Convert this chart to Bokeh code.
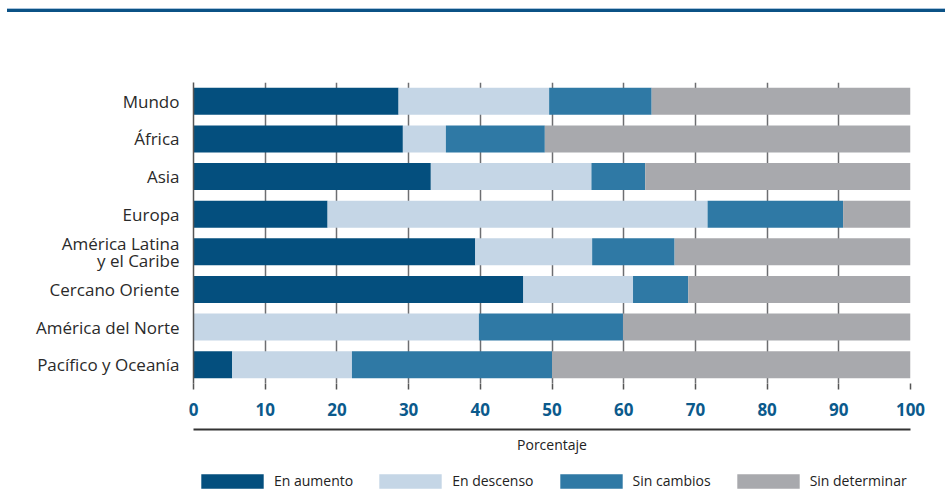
from bokeh.plotting import figure
from bokeh.models import (FactorRange, Range1d, Legend, LegendItem, LinearAxis,
                          FixedTicker, Div, ColumnDataSource)
from bokeh.layouts import column
from bokeh.embed import file_html
from bokeh.resources import INLINE

regions = ["Mundo", "África", "Asia", "Europa", "América Latina\ny el Caribe",
           "Cercano Oriente", "América del Norte", "Pacífico y Oceanía"]
en_aumento = [28.6, 29.2, 33.1, 18.7, 39.3, 46.0, 0.0, 5.4]
en_descenso = [21.0, 6.0, 22.4, 53.0, 16.3, 15.3, 39.8, 16.7]
sin_cambios = [14.3, 13.8, 7.5, 18.9, 11.5, 7.7, 20.1, 27.9]
sin_determinar = [36.1, 51.0, 37.0, 9.4, 32.9, 31.0, 40.1, 50.0]
series_names = ["En aumento", "En descenso", "Sin cambios", "Sin determinar"]
series_keys = ["aumento", "descenso", "cambios", "determinar"]
colors = ["#044f7e", "#c5d6e6", "#2f79a5", "#a8a9ad"]
x_ticks = [0, 10, 20, 30, 40, 50, 60, 70, 80, 90, 100]

source = ColumnDataSource(dict(region=regions, aumento=en_aumento, descenso=en_descenso,
                               cambios=sin_cambios, determinar=sin_determinar))

FONT = "Open Sans"

p = figure(y_range=FactorRange(factors=regions[::-1], range_padding=0),
           x_range=Range1d(0, 100),
           width=945, height=455,
           min_border_left=193, min_border_right=35, min_border_top=70, min_border_bottom=84,
           output_backend="svg", toolbar_location=None)
p.outline_line_color = None

rs = p.hbar_stack(series_keys, y="region", height=0.72, color=colors, line_color=None,
                  source=source)

xa = p.xaxis[0]
xa.ticker = FixedTicker(ticks=x_ticks)
xa.axis_line_color = None
xa.major_tick_line_color = "#555555"
xa.major_tick_line_width = 1.5
xa.major_tick_in = 0
xa.major_tick_out = 6
xa.minor_tick_line_color = None
xa.major_label_standoff = 13
xa.major_label_text_font = FONT
xa.major_label_text_font_style = "bold"
xa.major_label_text_font_size = "17px"
xa.major_label_text_color = "#0b5a8c"
xa.axis_label = " "
xa.axis_label_text_font_size = "5px"
xa.axis_label_standoff = 2

xa2 = LinearAxis(ticker=FixedTicker(ticks=[]), axis_label="Porcentaje")
xa2.axis_line_color = "#333333"
xa2.axis_line_width = 2
xa2.major_tick_line_color = None
xa2.minor_tick_line_color = None
xa2.major_tick_out = 0
xa2.major_tick_in = 0
xa2.major_label_standoff = 0
xa2.axis_label_standoff = 5
xa2.axis_label_text_font = FONT
xa2.axis_label_text_font_style = "normal"
xa2.axis_label_text_font_size = "14px"
xa2.axis_label_text_color = "#222222"
p.add_layout(xa2, "below")

ya = p.yaxis[0]
ya.axis_line_color = "#555555"
ya.axis_line_width = 1.5
ya.major_tick_line_color = None
ya.minor_tick_line_color = None
ya.major_label_standoff = 8
ya.major_label_text_font = FONT
ya.major_label_text_font_size = "17px"
ya.major_label_text_line_height = 0.75
ya.major_label_text_color = "#2a2a2a"

p.xgrid.grid_line_color = "#6d6e71"
p.xgrid.grid_line_width = 1.5
p.xgrid.ticker = FixedTicker(ticks=x_ticks)
p.ygrid.grid_line_color = None

# legend strip: its own small figure, legend kept inside its frame
pl = figure(x_range=p.x_range, y_range=p.y_range, width=945, height=25,
            min_border_left=177, min_border_right=0, min_border_top=0, min_border_bottom=0,
            x_axis_location=None, y_axis_location=None,
            output_backend="svg", toolbar_location=None)
pl.outline_line_color = None
pl.xgrid.visible = False
pl.ygrid.visible = False
rs_leg = pl.hbar_stack(series_keys, y="region", height=0.72, color=colors, line_color=None,
                       source=source)
for r in rs_leg:
    r.visible = False

legend = Legend(items=[LegendItem(label=n, renderers=[r]) for n, r in zip(series_names, rs_leg)],
                orientation="horizontal", location=(0, 2),
                glyph_width=78, glyph_height=18, label_standoff=3, spacing=18,
                padding=0, margin=0, border_line_color=None, background_fill_alpha=0,
                inactive_fill_alpha=0, label_height=18,
                label_text_font=FONT, label_text_font_size="14px", label_text_color="#222222")
pl.add_layout(legend, "center")

top_rule = Div(width=938, height=4, margin=(8, 0, 0, 7), styles={
    "background": "linear-gradient(#a9c4dc 0px, #a9c4dc 1px, #0b5286 1px, #0b5286 4px)"})

layout = column(top_rule, p, pl, spacing=0)

open("out.html", "w").write(file_html(layout, INLINE))
